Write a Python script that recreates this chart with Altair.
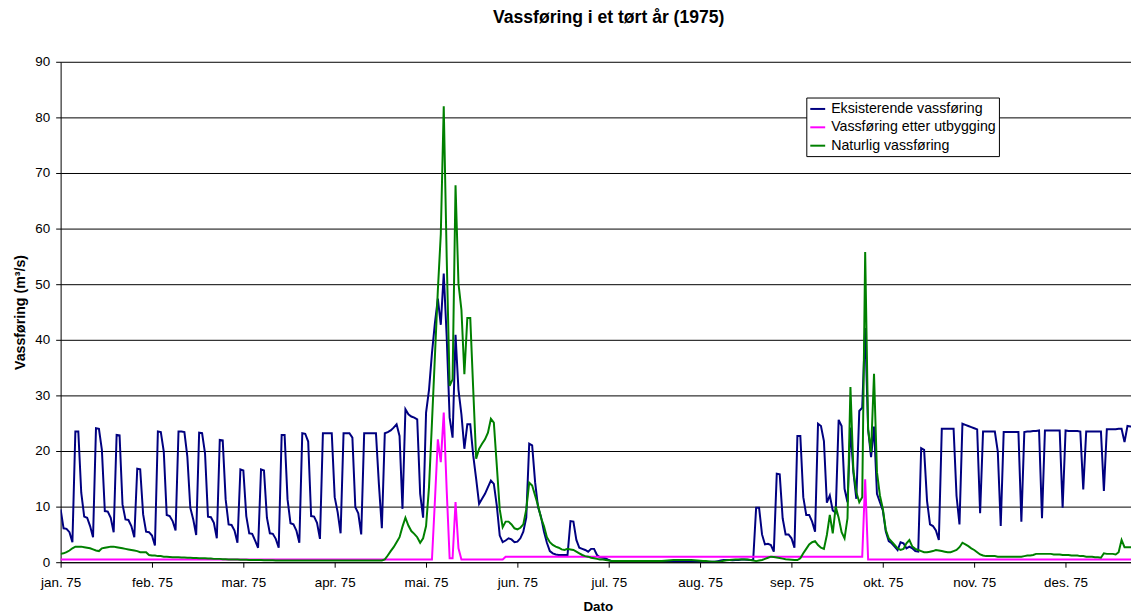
import altair as alt
import pandas as pd

series_names = ["Eksisterende vassføring", "Vassføring etter utbygging", "Naturlig vassføring"]
series_colors = ["#000080", "#FF00FF", "#008000"]
series_widths = [2, 2, 1]
month_labels = ["jan. 75", "feb. 75", "mar. 75", "apr. 75", "mai. 75", "jun. 75",
                "jul. 75", "aug. 75", "sep. 75", "okt. 75", "nov. 75", "des. 75"]
label_step = 31  # Excel category axis: one label every 31 days

# Eksisterende vassføring (m3/s), one value per day from 1 Jan 1975
eksisterende = [
    9.5, 6.1, 6.0, 5.4, 3.6,
    23.5, 23.5, 12.5, 8.2, 8.0, 6.5, 4.5,
    24.1, 24.0, 20.2, 9.2, 9.1, 8.0, 5.4,
    22.9, 22.8, 10.4, 7.7, 7.6, 6.5, 4.5,
    16.8, 16.7, 8.6, 5.5, 5.4, 4.8, 3.0,
    23.5, 23.4, 19.9, 8.5, 8.3, 7.4, 5.7,
    23.5, 23.5, 23.4, 19.0, 9.8, 7.7, 4.9,
    23.3, 23.2, 19.6, 8.2, 8.1, 7.1, 4.3,
    22.0, 21.9, 11.3, 6.8, 6.7, 5.7, 3.5,
    16.7, 16.5, 8.3, 5.2, 5.1, 3.9, 2.6,
    16.7, 16.5, 8.0, 5.2, 5.1, 4.2, 2.6,
    22.9, 22.9, 11.3, 7.0, 6.8, 5.7, 3.5,
    23.2, 23.1, 21.7, 8.3, 8.2, 7.1, 4.2,
    23.2, 23.2, 23.2, 23.2, 11.7, 9.0, 5.2,
    23.2, 23.2, 23.2, 22.4, 9.9, 8.8, 5.0,
    23.2, 23.2, 23.2, 23.2, 23.2, 14.0, 6.1,
    23.2, 23.4, 23.7, 24.2, 24.8, 22.7, 9.6,
    27.5, 26.6, 26.2, 26.0, 25.7, 12.3, 8.0,
    26.9, 31.0, 37.6, 43.0, 47.4, 42.7, 51.9,
    40.6, 26.0, 22.4, 40.9, 31.0, 26.6, 20.4,
    24.8, 24.8, 19.2, 15.0, 10.5, 11.4, 12.3,
    13.5, 14.7, 14.1, 10.2, 4.8, 3.6, 3.9,
    4.3, 4.1, 3.6, 3.7, 4.3, 5.5, 8.0,
    21.3, 21.0, 14.4, 9.9, 8.2, 5.5, 3.5,
    2.0, 1.6, 1.4, 1.3, 1.3, 1.3, 1.3,
    7.4, 7.3, 4.0, 2.6, 2.4, 2.2, 1.9,
    2.4, 2.4, 1.3, 0.9, 0.8, 0.7, 0.4,
    0.2, 0.2, 0.2, 0.2, 0.2, 0.2, 0.2,
    0.2, 0.2, 0.2, 0.2, 0.2, 0.2, 0.2,
    0.2, 0.2, 0.2, 0.2, 0.2, 0.2, 0.2,
    0.2, 0.2, 0.2, 0.2, 0.2, 0.2, 0.2,
    0.15, 0.1, 0.1, 0.1, 0.1, 0.1, 0.1,
    0.1, 0.2, 0.3, 0.4, 0.4, 0.4, 0.35,
    0.4, 0.4, 0.5, 0.5, 0.45, 0.4, 0.4,
    9.8, 9.8, 5.0, 3.2, 3.3, 3.1, 1.9,
    15.9, 15.8, 7.9, 5.0, 5.0, 4.3, 2.6,
    22.7, 22.7, 11.7, 8.5, 8.5, 7.3, 5.5,
    24.9, 24.5, 21.8, 10.7, 12.0, 9.3, 8.9,
    25.6, 24.5, 13.2, 10.8, 24.2, 16.2, 11.4,
    27.2, 27.8, 42.1, 23.9, 18.9, 24.4, 12.3,
    10.8, 9.3, 5.5, 3.8, 3.4, 2.8, 2.2,
    3.6, 3.4, 2.5, 2.8, 2.5, 2.0, 1.9,
    20.5, 20.2, 11.0, 6.8, 6.5, 5.7, 4.0,
    24.0, 24.0, 24.0, 24.0, 24.0, 11.9, 6.8,
    24.9, 24.7, 24.5, 24.3, 24.1, 23.9, 8.8,
    23.5, 23.5, 23.5, 23.5, 23.5, 19.9, 6.5,
    23.4, 23.4, 23.4, 23.4, 23.4, 23.4, 7.3,
    23.4, 23.5, 23.5, 23.6, 23.6, 23.7, 7.9,
    23.7, 23.7, 23.7, 23.7, 23.7, 23.7, 9.8,
    23.7, 23.6, 23.6, 23.6, 23.6, 23.5, 13.1,
    23.5, 23.5, 23.5, 23.5, 23.5, 23.5, 12.8,
    23.9, 23.9, 23.9, 23.9, 24.0, 24.0, 21.6,
    24.5, 24.4, 24.4,
]

# Vassføring etter utbygging (m3/s)
etter_utbygging = [
    0.5, 0.5, 0.5, 0.5, 0.5, 0.5, 0.5, 0.5, 0.5, 0.5, 0.5, 0.5, 0.5, 0.5,
    0.5, 0.5, 0.5, 0.5, 0.5, 0.5, 0.5, 0.5, 0.5, 0.5, 0.5, 0.5, 0.5, 0.5,
    0.5, 0.5, 0.5, 0.5, 0.5, 0.5, 0.5, 0.5, 0.5, 0.5, 0.5, 0.5, 0.5, 0.5,
    0.5, 0.5, 0.5, 0.5, 0.5, 0.5, 0.5, 0.5, 0.5, 0.5, 0.5, 0.5, 0.5, 0.5,
    0.5, 0.5, 0.5, 0.5, 0.5, 0.5, 0.5, 0.5, 0.5, 0.5, 0.5, 0.5, 0.5, 0.5,
    0.5, 0.5, 0.5, 0.5, 0.5, 0.5, 0.5, 0.5, 0.5, 0.5, 0.5, 0.5, 0.5, 0.5,
    0.5, 0.5, 0.5, 0.5, 0.5, 0.5, 0.5, 0.5, 0.5, 0.5, 0.5, 0.5, 0.5, 0.5,
    0.5, 0.5, 0.5, 0.5, 0.5, 0.5, 0.5, 0.5, 0.5, 0.5, 0.5, 0.5, 0.5, 0.5,
    0.5, 0.5, 0.5, 0.5, 0.5, 0.5, 0.5, 0.5, 0.5, 0.5, 0.5, 0.5, 0.5, 0.5,
    0.5,
    11.0, 22.1, 18.0, 26.9, 13.0, 0.7, 0.7, 10.8, 2.5, 0.5, 0.5,
    0.5, 0.5, 0.5, 0.5, 0.5, 0.5, 0.5, 0.5, 0.5, 0.5, 0.5, 0.5, 0.5,
    1.0, 1.0, 1.0, 1.0, 1.0, 1.0, 1.0, 1.0, 1.0, 1.0, 1.0, 1.0, 1.0, 1.0,
    1.0, 1.0, 1.0, 1.0, 1.0, 1.0, 1.0, 1.0, 1.0, 1.0, 1.0, 1.0, 1.0, 1.0,
    1.0, 1.0, 1.0, 1.0, 1.0, 1.0, 1.0, 1.0, 1.0, 1.0, 1.0, 1.0, 1.0, 1.0,
    1.0, 1.0, 1.0, 1.0, 1.0, 1.0, 1.0, 1.0, 1.0, 1.0, 1.0, 1.0, 1.0, 1.0,
    1.0, 1.0, 1.0, 1.0, 1.0, 1.0, 1.0, 1.0, 1.0, 1.0, 1.0, 1.0, 1.0, 1.0,
    1.0, 1.0, 1.0, 1.0, 1.0, 1.0, 1.0, 1.0, 1.0, 1.0, 1.0, 1.0, 1.0, 1.0,
    1.0, 1.0, 1.0, 1.0, 1.0, 1.0, 1.0, 1.0, 1.0, 1.0, 1.0, 1.0, 1.0, 1.0,
    1.0, 1.0, 1.0, 1.0, 1.0, 1.0, 1.0, 1.0, 1.0, 1.0, 1.0, 1.0, 1.0, 1.0,
    1.0, 1.0, 1.0, 1.0, 1.0, 1.0, 1.0, 1.0, 1.0, 1.0,
    14.9,
    0.5, 0.5, 0.5, 0.5, 0.5, 0.5, 0.5, 0.5, 0.5, 0.5, 0.5, 0.5, 0.5,
    0.5, 0.5, 0.5, 0.5, 0.5, 0.5, 0.5, 0.5, 0.5, 0.5, 0.5, 0.5, 0.5,
    0.5, 0.5, 0.5, 0.5, 0.5, 0.5, 0.5, 0.5, 0.5, 0.5, 0.5, 0.5, 0.5,
    0.5, 0.5, 0.5, 0.5, 0.5, 0.5, 0.5, 0.5, 0.5, 0.5, 0.5, 0.5, 0.5,
    0.5, 0.5, 0.5, 0.5, 0.5, 0.5, 0.5, 0.5, 0.5, 0.5, 0.5, 0.5, 0.5,
    0.5, 0.5, 0.5, 0.5, 0.5, 0.5, 0.5, 0.5, 0.5, 0.5, 0.5, 0.5, 0.5,
    0.5, 0.5, 0.5, 0.5, 0.5, 0.5, 0.5, 0.5, 0.5, 0.5, 0.5, 0.5, 0.5,
]

# Naturlig vassføring (m3/s)
naturlig = [
    1.5, 1.6, 1.8, 2.1, 2.5, 2.8, 2.8,
    2.8, 2.7, 2.6, 2.5, 2.3, 2.1, 2.0,
    2.5, 2.6, 2.7, 2.8, 2.8, 2.7, 2.6,
    2.5, 2.4, 2.3, 2.2, 2.1, 2.0, 1.8,
    1.8, 1.8, 1.3, 1.2, 1.2, 1.1, 1.1,
    1.0, 1.0, 0.95, 0.9, 0.9, 0.9, 0.85,
    0.85, 0.8, 0.8, 0.75, 0.75, 0.7, 0.7,
    0.7, 0.65, 0.65, 0.6, 0.6, 0.6, 0.55,
    0.55, 0.5, 0.5, 0.5, 0.5, 0.45, 0.45,
    0.45, 0.4, 0.4, 0.4, 0.4, 0.4, 0.35,
    0.35, 0.35, 0.35, 0.3, 0.3, 0.3, 0.3,
    0.3, 0.3, 0.3, 0.3, 0.3, 0.3, 0.3,
    0.3, 0.3, 0.3, 0.3, 0.3, 0.3, 0.3,
    0.3, 0.3, 0.3, 0.3, 0.3, 0.3, 0.3,
    0.3, 0.3, 0.3, 0.3, 0.3, 0.3, 0.3,
    0.3, 0.3, 0.3, 0.3, 0.3, 0.5, 1.2,
    2.0, 2.7, 3.6, 4.5, 6.4, 8.0, 6.6,
    5.6, 5.1, 4.5, 3.5, 4.3, 6.5, 13.5,
    25.1, 37.0, 48.9, 59.0, 82.0, 54.9, 31.7,
    32.9, 67.8, 50.1, 45.4, 33.8, 43.9, 43.9,
    31.1, 18.6, 20.4, 21.3, 22.1, 23.3, 25.8,
    25.1, 17.4, 9.5, 6.3, 7.3, 7.3, 6.8,
    6.1, 5.9, 6.2, 6.8, 9.5, 14.3, 13.8,
    12.0, 10.2, 8.0, 6.5, 4.5, 3.6, 3.1,
    2.8, 2.6, 2.3, 2.2, 2.4, 2.3, 2.2,
    1.9, 1.6, 1.3, 1.1, 1.0, 0.8, 0.7,
    0.6, 0.5, 0.5, 0.4, 0.3, 0.2, 0.2,
    0.2, 0.2, 0.2, 0.2, 0.2, 0.2, 0.2,
    0.2, 0.2, 0.2, 0.2, 0.2, 0.2, 0.2,
    0.2, 0.2, 0.25, 0.3, 0.35, 0.4, 0.4,
    0.4, 0.4, 0.4, 0.4, 0.4, 0.35, 0.3,
    0.25, 0.2, 0.2, 0.15, 0.1, 0.1, 0.1,
    0.15, 0.25, 0.35, 0.4, 0.45, 0.5, 0.5,
    0.5, 0.5, 0.5, 0.4, 0.3, 0.2, 0.3,
    0.4, 0.6, 0.8, 1.0, 0.95, 0.85, 0.75,
    0.65, 0.55, 0.5, 0.45, 0.4, 0.4, 0.7,
    1.6, 2.4, 3.2, 3.6, 3.8, 3.1, 2.6,
    2.4, 4.9, 8.5, 5.2, 10.0, 8.0, 5.4,
    4.3, 7.9, 31.5, 16.5, 12.6, 10.8, 11.7,
    55.8, 23.9, 19.8, 33.9, 16.2, 12.0, 9.6,
    5.8, 4.3, 3.7, 3.1, 2.5, 2.2, 2.4,
    3.4, 4.0, 2.8, 2.4, 2.2, 2.0, 1.8,
    1.8, 1.9, 2.0, 2.2, 2.1, 2.0, 1.9,
    1.8, 1.8, 2.0, 2.2, 2.7, 3.5, 3.2,
    2.9, 2.5, 2.2, 1.8, 1.4, 1.2, 1.1,
    1.1, 1.1, 1.1, 1.0, 1.0, 1.0, 1.0,
    1.0, 1.0, 1.0, 1.0, 1.0, 1.1, 1.2,
    1.2, 1.3, 1.5, 1.5, 1.5, 1.5, 1.5,
    1.5, 1.4, 1.4, 1.4, 1.3, 1.3, 1.3,
    1.2, 1.2, 1.2, 1.1, 1.1, 1.0, 1.0,
    1.0, 0.9, 0.9, 0.8, 1.6, 1.5, 1.5,
    1.5, 1.4, 1.8, 4.0, 2.7, 2.7, 2.7,
    2.7,
]

FONT = "Liberation Sans"


def frame(values, name):
    return pd.DataFrame({"dag": list(range(len(values))), "verdi": values, "serie": name})


tick_values = [i * label_step for i in range(len(month_labels))]
label_expr = "[" + ",".join("'" + m + "'" for m in month_labels) + "][round(datum.value / 31)]"

legend = alt.Legend(
    title=None, orient="none", legendX=751, legendY=36,
    symbolType="stroke", symbolSize=225, labelFont=FONT, labelFontSize=14.3,
    labelColor="black", labelOffset=5, labelLimit=400, padding=3, rowPadding=2.5,
    strokeColor="black", fillColor="white",
)

x_enc = alt.X(
    "dag:Q",
    scale=alt.Scale(domain=[0, 363.2], nice=False, zero=False),
    axis=alt.Axis(
        values=tick_values, labelExpr=label_expr, grid=False,
        tickSize=5, tickColor="black", domainColor="black",
        labelFont=FONT, labelFontSize=13.5, labelColor="black", labelPadding=8,
        labelFlush=False, labelOverlap=False,
        title="Dato", titleFont=FONT, titleFontSize=13.5, titleFontWeight="bold",
        titleColor="black", titleX=541, titleY=45, titleAlign="center",
        titleBaseline="middle",
    ),
)
y_enc = alt.Y(
    "verdi:Q",
    scale=alt.Scale(domain=[0, 90], nice=False),
    axis=alt.Axis(
        values=list(range(0, 91, 10)), grid=True, gridColor="black", gridWidth=1,
        tickSize=5, tickColor="black", domainColor="black",
        labelFont=FONT, labelFontSize=13.5, labelColor="black", labelPadding=6,
        title="Vassføring (m³/s)", titleFont=FONT, titleFontSize=14.3,
        titleFontWeight="bold", titleColor="black", titleAngle=270,
        titleX=-40, titleY=252, titleAlign="center", titleBaseline="middle",
    ),
)
color_enc = alt.Color("serie:N", scale=alt.Scale(domain=series_names, range=series_colors), legend=legend)
width_enc = alt.StrokeWidth("serie:N", scale=alt.Scale(domain=series_names, range=series_widths), legend=legend)

layers = []
for vals, name in [(eksisterende, series_names[0]), (etter_utbygging, series_names[1]), (naturlig, series_names[2])]:
    layers.append(
        alt.Chart(frame(vals, name)).mark_line(clip=True).encode(
            x=x_enc, y=y_enc, color=color_enc, strokeWidth=width_enc
        )
    )

chart = alt.layer(*layers).properties(
    width=1078, height=504,
    title=alt.TitleParams(
        "Vassføring i et tørt år (1975)", font=FONT, fontSize=17.7, fontWeight="bold",
        color="black", anchor="middle", frame="group", baseline="middle", offset=23,
        dx=13, dy=4,
    ),
    autosize=alt.AutoSizeParams(type="none"),
    padding={"left": 53, "top": 52, "right": 0, "bottom": 52},
    background="white",
).configure_view(strokeWidth=0)

chart.save("out.html", embed_options={"renderer": "svg", "actions": False})
